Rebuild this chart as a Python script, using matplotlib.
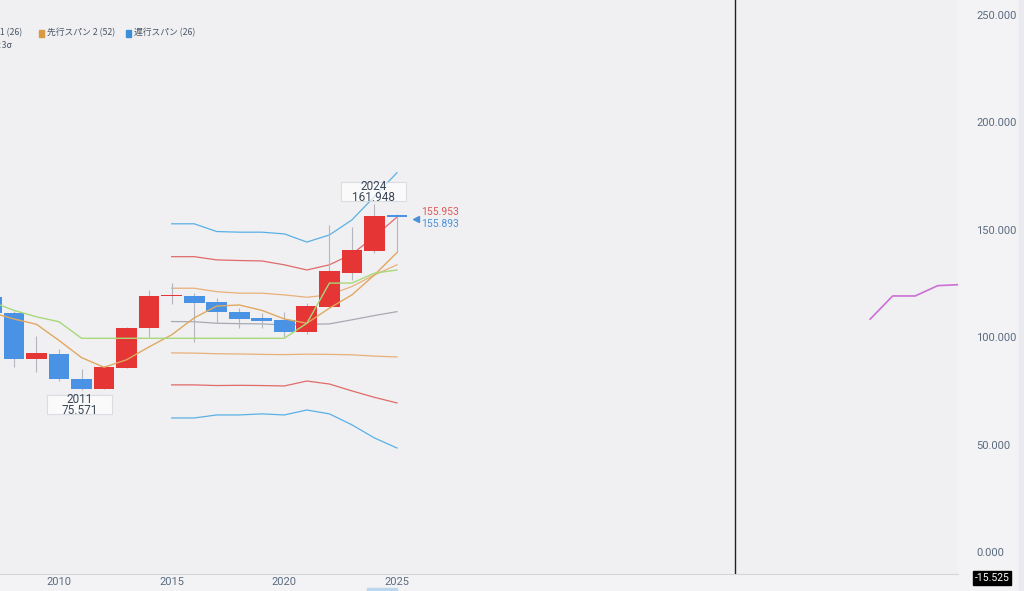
import numpy as np
import matplotlib.pyplot as plt
from matplotlib.patches import Rectangle

plt.rcParams['font.family'] = ['Roboto', 'Noto Sans CJK JP', 'DejaVu Sans']

# yearly candles
years = np.arange(2007, 2026)
opens  = [118.8, 111.5, 89.7, 92.2, 80.7, 75.9, 85.8, 104.5, 119.0, 119.4,
          116.6, 111.9, 109.1, 108.1, 102.2, 114.0, 130.1, 140.0, 156.9]
highs  = [121.0, 112.0, 100.6, 94.5, 85.1, 86.5, 104.8, 122.0, 125.1, 120.5,
          118.2, 113.8, 111.2, 111.9, 115.8, 152.3, 151.2, 161.948, 157.2]
lows   = [110.0, 86.2, 84.0, 79.5, 75.571, 75.7, 85.5, 100.3, 115.5, 97.9,
          106.8, 104.2, 104.2, 100.3, 101.5, 113.5, 126.7, 139.1, 139.9]
closes = [111.5, 89.9, 92.5, 80.4, 75.9, 86.0, 104.5, 119.1, 119.6, 116.1,
          111.9, 108.5, 107.6, 102.3, 114.6, 130.6, 140.7, 156.6, 155.893]

# bollinger bands (2015-2025)
band_years = np.arange(2015, 2026)
upper3 = [152.8, 152.8, 149.2, 148.9, 148.9, 148.1, 144.3, 147.6, 154.6, 165.5, 176.6]
upper2 = [137.5, 137.5, 136.0, 135.7, 135.5, 133.7, 131.3, 133.7, 138.7, 146.8, 155.953]
upper1 = [122.8, 122.8, 121.2, 120.5, 120.5, 119.7, 118.6, 119.7, 123.6, 129.0, 133.7]
middle = [107.3, 107.2, 106.5, 106.3, 106.2, 105.7, 106.0, 106.2, 108.1, 110.1, 111.9]
lower1 = [92.7, 92.6, 92.3, 92.2, 92.0, 91.9, 92.1, 92.0, 91.8, 91.2, 90.8]
lower2 = [77.8, 77.8, 77.5, 77.6, 77.5, 77.3, 79.6, 78.2, 75.0, 72.0, 69.4]
lower3 = [62.4, 62.4, 63.8, 63.8, 64.3, 63.8, 66.1, 64.3, 59.2, 53.1, 48.4]

# ichimoku lines (2007-2025)
span_tan = [111.5, 108.5, 106.0, 98.5, 90.5, 86.0, 89.5, 95.5, 101.1, 109.0,
            114.5, 115.0, 112.5, 108.5, 106.5, 113.5, 119.7, 129.0, 139.4]
span_green = [116.5, 112.5, 109.5, 107.2, 99.5, 99.5, 99.5, 99.5, 99.5, 99.5,
              99.5, 99.5, 99.5, 99.5, 106.5, 125.2, 125.2, 129.8, 131.3]

# forward line
fwd_years = np.arange(2046, 2051)
fwd_vals = [108.4, 119.2, 119.2, 124.0, 124.5]

W, H = 1024, 591
def fx(px): return px / W
def fy(py): return 1 - py / H

fig = plt.figure(figsize=(W / 100, H / 100), dpi=100, facecolor='#f3f3f5')
ax = fig.add_axes([0, fy(574), 958 / W, 574 / H])
ax.set_facecolor('#f0f0f2')

# bands behind candles
band_style = [(upper3, '#5ab0e6'), (upper2, '#e06a6a'), (upper1, '#e8b07a'),
              (middle, '#a9a9b3'), (lower1, '#e8b07a'), (lower2, '#e06a6a'),
              (lower3, '#5ab0e6')]
for vals, col in band_style:
    ax.plot(band_years, vals, color=col, lw=0.9, zorder=1)

up_col, dn_col = '#e53535', '#4a92e3'
ax.vlines(years, lows, highs, color='#b4b6be', lw=0.8, zorder=2)
for yr, o, h, l, c in zip(years, opens, highs, lows, closes):
    col = up_col if c >= o else dn_col
    ht = max(abs(c - o), 0.7)
    ax.bar(yr, ht, bottom=min(o, c), width=0.92, color=col, zorder=3)

ax.plot(years, span_tan, color='#e0a860', lw=1.0, zorder=4)
ax.plot(years, span_green, color='#a8d87a', lw=1.0, zorder=4)
ax.plot(fwd_years, fwd_vals, color='#cc6fd6', lw=1.2, zorder=4)

ax.axvline(2040, color='#222222', lw=1.0, zorder=5)

# high / low labels with fixed-size boxes
for x0, y0, label in [(2022.516, 163.4, '2024\n161.948'), (2009.467, 64.25, '2011\n75.571')]:
    ax.add_patch(Rectangle((x0, y0), 2.885, 8.85, fc='white', ec='#cfd3da',
                           alpha=0.7, lw=0.8, zorder=6))
    ax.text(x0 + 1.4425, y0 + 4.3, label, ha='center', va='center', fontsize=8.5,
            color='#3a4656', linespacing=0.78, zorder=7)

ax.set_xlim(2007.381, 2049.90)
ax.set_ylim(-10.25, 257.0)
ax.set_xticks([2010, 2015, 2020, 2025])
ax.set_yticks([0, 50, 100, 150, 200, 250])
ax.set_yticklabels(['%.3f' % v for v in [0, 50, 100, 150, 200, 250]])
ax.yaxis.tick_right()
ax.tick_params(axis='y', length=0, pad=13, labelsize=8, labelcolor='#5b6b80')
ax.tick_params(axis='x', length=0, pad=2, labelsize=8, labelcolor='#5b6b80')
for s in ['top', 'left', 'right']:
    ax.spines[s].set_visible(False)
ax.spines['bottom'].set_color('#d3d5da')

# legend row (cut off at left, as in the source view)
jp = ['Noto Sans CJK JP', 'DejaVu Sans']
fig.text(fx(22), fy(33), '先行スパン 1 (26)', ha='right', va='center', fontsize=6.3,
         color='#4a5566', family=jp)
fig.patches.append(Rectangle((fx(39), fy(36.5)), 5 / W, 6 / H, transform=fig.transFigure,
                             color='#d99a45', figure=fig))
fig.text(fx(47), fy(33), '先行スパン 2 (52)', ha='left', va='center', fontsize=6.3,
         color='#4a5566', family=jp)
fig.patches.append(Rectangle((fx(126), fy(36.5)), 5 / W, 6 / H, transform=fig.transFigure,
                             color='#3b8fd9', figure=fig))
fig.text(fx(134), fy(33), '遅行スパン (26)', ha='left', va='center', fontsize=6.3,
         color='#4a5566', family=jp)
fig.text(fx(12), fy(45), 'ボリンジャーバンド ±3σ', ha='right', va='center', fontsize=6.3,
         color='#4a5566', family=jp)

# price tags
fig.text(fx(421), fy(212), '155.953', ha='left', va='center', fontsize=7.5, color='#e05a5a')
fig.text(fx(421), fy(224), '155.893', ha='left', va='center', fontsize=7.5, color='#4a92d9')
fig.lines.append(plt.Line2D([fx(416)], [fy(219)], marker='<', color='#4a92d9', markersize=4,
                            transform=fig.transFigure, figure=fig))

# crosshair value tag
fig.text(fx(975), fy(578), '-15.525', ha='left', va='center', fontsize=7.5, color='white',
         bbox=dict(boxstyle='square,pad=0.15', fc='black', ec='black'))
fig.patches.append(Rectangle((fx(367), 0), 30 / W, 3 / H, transform=fig.transFigure,
                             color='#bcd6ee', figure=fig))
fig.patches.append(Rectangle((fx(1019), 0), 5 / W, 1, transform=fig.transFigure,
                             color='#e9ebf0', figure=fig))

fig.savefig('out.png', dpi=100, facecolor=fig.get_facecolor())
